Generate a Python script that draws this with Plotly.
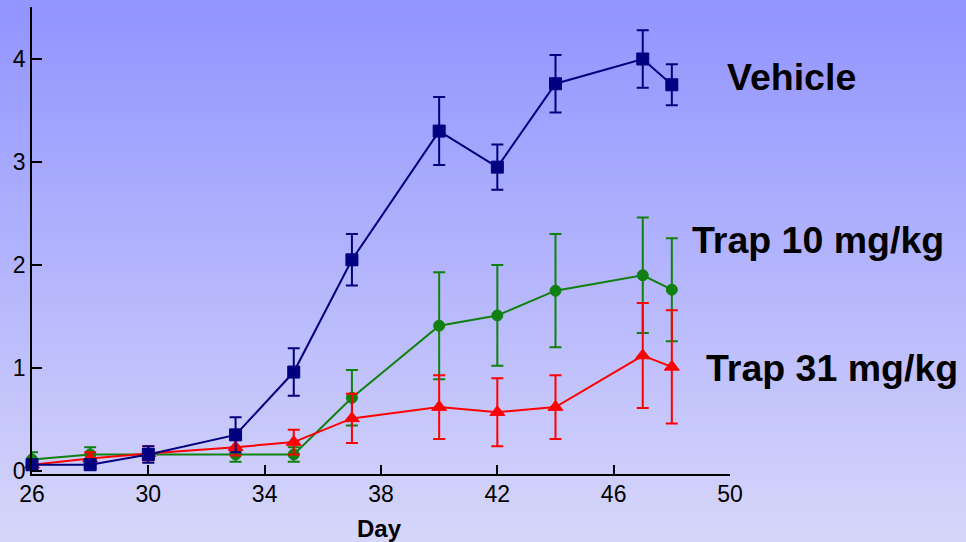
import plotly.graph_objects as go

# ---- data ----
days = [26, 28, 30, 33, 35, 37, 40, 42, 44, 47, 48]
vehicle = [0.06, 0.06, 0.16, 0.35, 0.96, 2.05, 3.30, 2.95, 3.76, 4.00, 3.75]
vehicle_err = [0.03, 0.03, 0.08, 0.17, 0.23, 0.25, 0.33, 0.22, 0.28, 0.28, 0.20]
trap10 = [0.11, 0.16, 0.16, 0.16, 0.16, 0.71, 1.41, 1.51, 1.75, 1.90, 1.76]
trap10_err = [0.07, 0.07, 0.05, 0.07, 0.07, 0.27, 0.52, 0.49, 0.55, 0.56, 0.50]
trap31 = [0.06, 0.12, 0.17, 0.23, 0.28, 0.51, 0.62, 0.57, 0.62, 1.12, 1.01]
trap31_err = [0.03, 0.06, 0.07, 0.08, 0.12, 0.24, 0.31, 0.33, 0.31, 0.51, 0.55]
x_ticks = [26, 30, 34, 38, 42, 46, 50]
y_ticks = [0, 1, 2, 3, 4]
labels = ["Vehicle", "Trap 10 mg/kg", "Trap 31 mg/kg"]

W, H = 966, 542
ML, MR, MT, MB = 32, 236, 7, 68

fig = go.Figure()

def add(y, err, color, symbol, size, name):
    fig.add_trace(go.Scatter(
        x=days, y=y, mode="lines+markers", name=name,
        line=dict(color=color, width=2),
        marker=dict(color=color, symbol=symbol, size=size,
                    line=dict(color=color, width=1)),
        error_y=dict(type="data", array=err, visible=True, color=color,
                     thickness=2, width=6),
        cliponaxis=False,
    ))

add(trap10, trap10_err, "#108010", "circle", 11, labels[1])
add(trap31, trap31_err, "#ff0000", "triangle-up", 13, labels[2])
add(vehicle, vehicle_err, "#000080", "square", 12, labels[0])

# vertical gradient background
top = (146, 148, 255)
bot = (214, 214, 250)
n = 90
pw = W - ML - MR
ph = H - MT - MB
shapes = []
for i in range(n):
    t = i / (n - 1)
    c = tuple(round(top[k] + (bot[k] - top[k]) * t) for k in range(3))
    y_top_px = H * i / n
    y_bot_px = H * (i + 1) / n + 1
    shapes.append(dict(
        type="rect", xref="paper", yref="paper", layer="below",
        x0=-ML / pw, x1=(W - ML) / pw,
        y0=1 - (y_bot_px - MT) / ph, y1=1 - (y_top_px - MT) / ph,
        fillcolor="rgb(%d,%d,%d)" % c, line=dict(width=0),
    ))

font = "Liberation Sans, Arial, sans-serif"
ann = [
    dict(text="<b>Vehicle</b>", x=791, y=77, size=37.5),
    dict(text="<b>Trap 10 mg/kg</b>", x=818, y=240, size=37.5),
    dict(text="<b>Trap 31 mg/kg</b>", x=832, y=368, size=37.5),
    dict(text="<b>Day</b>", x=379, y=528, size=24),
]
annotations = []
for a in ann:
    annotations.append(dict(
        text=a["text"], xref="paper", yref="paper",
        x=(a["x"] - ML) / pw, y=1 - (a["y"] - MT) / ph,
        xanchor="center", yanchor="middle", showarrow=False,
        font=dict(family=font, size=a["size"], color="black"),
    ))

fig.update_layout(
    width=W, height=H,
    margin=dict(l=ML, r=MR, t=MT, b=MB),
    paper_bgcolor="rgb(180,181,252)",
    plot_bgcolor="rgba(0,0,0,0)",
    showlegend=False,
    shapes=shapes,
    annotations=annotations,
    font=dict(family=font, size=22, color="black"),
    xaxis=dict(range=[26, 50], tickvals=x_ticks, ticks="inside", ticklen=9,
               tickwidth=1.5, tickcolor="black", showline=True,
               linecolor="black", linewidth=1.5, showgrid=False,
               zeroline=False, tickfont=dict(size=23), ticklabelstandoff=-1),
    yaxis=dict(range=[-0.03, 4.505], tickvals=y_ticks, ticks="inside",
               ticklen=10, tickwidth=1.5, tickcolor="black", showline=True,
               linecolor="black", linewidth=1.5, showgrid=False,
               zeroline=False, tickfont=dict(size=23)),
)

fig.write_html(
    "out.html",
    config={"displayModeBar": False},
    post_script="document.body.style.margin='0';document.body.style.overflow='hidden';",
)
